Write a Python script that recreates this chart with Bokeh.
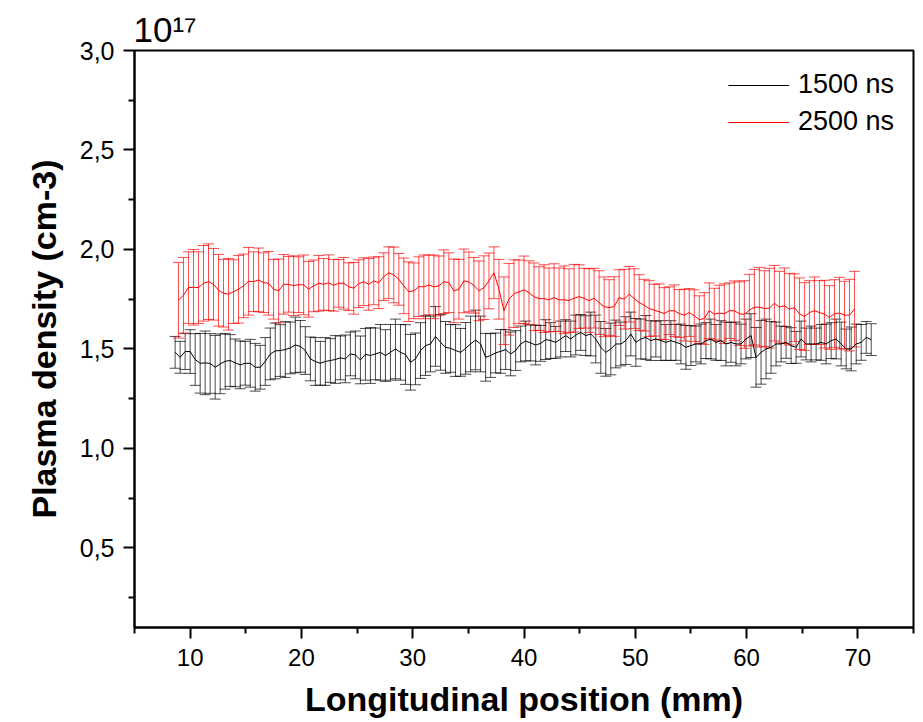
from bokeh.plotting import figure
from bokeh.models import (ColumnDataSource, Whisker, TeeHead, FixedTicker,
                          CustomJSTickFormatter, Range1d, Title)
from bokeh.embed import file_html
from bokeh.resources import INLINE

# ---------------- data (x in mm, density in 1e17 cm-3) ----------------
x_1500 = [8.65, 9.10, 9.55, 10.00, 10.45, 10.90, 11.35, 11.80, 12.25, 12.70, 13.15, 13.60, 14.05, 14.50, 14.95, 15.40, 15.85, 16.30, 16.75, 17.20,
          17.65, 18.10, 18.55, 19.00, 19.45, 19.90, 20.35, 20.80, 21.25, 21.70, 22.15, 22.60, 23.05, 23.50, 23.95, 24.40, 24.85, 25.30, 25.75, 26.20,
          26.65, 27.10, 27.55, 28.00, 28.45, 28.90, 29.35, 29.80, 30.25, 30.70, 31.15, 31.60, 32.05, 32.50, 32.95, 33.40, 33.85, 34.30, 34.75, 35.20,
          35.65, 36.10, 36.55, 37.00, 37.45, 37.90, 38.35, 38.80, 39.25, 39.70, 40.15, 40.60, 41.05, 41.50, 41.95, 42.40, 42.85, 43.30, 43.75, 44.20,
          44.65, 45.10, 45.55, 46.00, 46.45, 46.90, 47.35, 47.80, 48.25, 48.70, 49.15, 49.60, 50.05, 50.50, 50.95, 51.40, 51.85, 52.30, 52.75, 53.20,
          53.65, 54.10, 54.55, 55.00, 55.45, 55.90, 56.35, 56.80, 57.25, 57.70, 58.15, 58.60, 59.05, 59.50, 59.95, 60.40, 60.85, 61.30, 61.75, 62.20,
          62.65, 63.10, 63.55, 64.00, 64.45, 64.90, 65.35, 65.80, 66.25, 66.70, 67.15, 67.60, 68.05, 68.50, 68.95, 69.40, 69.85, 70.30, 70.75, 71.20]
y_1500 = [1.483, 1.458, 1.487, 1.487, 1.447, 1.428, 1.43, 1.427, 1.408, 1.425, 1.438, 1.442, 1.43, 1.42, 1.428, 1.428, 1.408, 1.408, 1.437, 1.475,
          1.49, 1.492, 1.497, 1.505, 1.52, 1.513, 1.492, 1.45, 1.437, 1.428, 1.437, 1.442, 1.447, 1.455, 1.45, 1.475, 1.47,
          1.445, 1.473, 1.467, 1.475, 1.483, 1.467, 1.483, 1.50, 1.483, 1.472, 1.433, 1.45, 1.492, 1.517, 1.525, 1.563, 1.533, 1.508, 1.503, 1.492,
          1.483, 1.503, 1.525, 1.545, 1.525, 1.458, 1.467, 1.48, 1.488, 1.497, 1.475, 1.492, 1.525, 1.54, 1.53, 1.52, 1.528, 1.547,
          1.542, 1.533, 1.55, 1.567, 1.55, 1.57, 1.583, 1.567, 1.575, 1.55, 1.508, 1.483, 1.50, 1.525, 1.525, 1.542, 1.575, 1.533, 1.55, 1.558,
          1.542, 1.55, 1.542, 1.533, 1.542, 1.533, 1.525, 1.508, 1.517, 1.525, 1.525, 1.542, 1.55, 1.533, 1.542, 1.525, 1.533, 1.525,
          1.525, 1.55, 1.567, 1.458, 1.483, 1.50, 1.508, 1.525, 1.525, 1.533, 1.517, 1.508, 1.55, 1.525, 1.525, 1.525, 1.533, 1.525, 1.542, 1.55,
          1.525, 1.50, 1.50, 1.525, 1.533, 1.558, 1.547]
err_1500 = [0.08, 0.08, 0.09, 0.11, 0.13, 0.15, 0.16, 0.15, 0.16, 0.15, 0.14, 0.13, 0.12, 0.12, 0.11, 0.12, 0.12, 0.11, 0.12, 0.13,
            0.14, 0.13, 0.14, 0.13, 0.14, 0.13, 0.12, 0.11, 0.12, 0.11, 0.12, 0.11, 0.12, 0.11, 0.12, 0.11, 0.12,
            0.12, 0.13, 0.14, 0.13, 0.14, 0.13, 0.14, 0.15, 0.14, 0.15, 0.14, 0.13, 0.14, 0.15, 0.14, 0.15, 0.14, 0.13, 0.12, 0.13,
            0.12, 0.13, 0.14, 0.15, 0.14, 0.12, 0.11, 0.10, 0.11, 0.10, 0.11, 0.10, 0.09, 0.10, 0.09, 0.10, 0.09, 0.10,
            0.09, 0.08, 0.09, 0.08, 0.09, 0.10, 0.09, 0.10, 0.11, 0.12, 0.13, 0.12, 0.13, 0.12, 0.11, 0.12, 0.11, 0.12, 0.10, 0.11,
            0.10, 0.09, 0.10, 0.09, 0.10, 0.09, 0.10, 0.11, 0.10, 0.09, 0.10, 0.09, 0.10, 0.09, 0.10, 0.11, 0.10, 0.11,
            0.10, 0.10, 0.11, 0.15, 0.16, 0.15, 0.13, 0.11, 0.09, 0.08, 0.09, 0.08, 0.09, 0.08, 0.09, 0.08, 0.09, 0.10, 0.09, 0.10,
            0.11, 0.10, 0.11, 0.10, 0.09, 0.08, 0.08]

x_2500 = [8.95, 9.40, 9.85, 10.30, 10.75, 11.20, 11.65, 12.10, 12.55, 13.00, 13.45, 13.90, 14.35, 14.80, 15.25, 15.70, 16.15, 16.60, 17.05, 17.50,
          17.95, 18.40, 18.85, 19.30, 19.75, 20.20, 20.65, 21.10, 21.55, 22.00, 22.45, 22.90, 23.35, 23.80, 24.25, 24.70, 25.15, 25.60, 26.05, 26.50,
          26.95, 27.40, 27.85, 28.30, 28.75, 29.20, 29.65, 30.10, 30.55, 31.00, 31.45, 31.90, 32.35, 32.80, 33.25, 33.70, 34.15, 34.60, 35.05, 35.50,
          35.95, 36.40, 36.85, 37.30, 37.75, 38.20, 38.65, 39.10, 39.55, 40.00, 40.45, 40.90, 41.35, 41.80, 42.25, 42.70, 43.15, 43.60, 44.05, 44.50,
          44.95, 45.40, 45.85, 46.30, 46.75, 47.20, 47.65, 48.10, 48.55, 49.00, 49.45, 49.90, 50.35, 50.80, 51.25, 51.70, 52.15, 52.60, 53.05, 53.50,
          53.95, 54.40, 54.85, 55.30, 55.75, 56.20, 56.65, 57.10, 57.55, 58.00, 58.45, 58.90, 59.35, 59.80, 60.25, 60.70, 61.15, 61.60, 62.05, 62.50,
          62.95, 63.40, 63.85, 64.30, 64.75, 65.20, 65.65, 66.10, 66.55, 67.00, 67.45, 67.90, 68.35, 68.80, 69.25, 69.70]
y_2500 = [1.745, 1.77, 1.808, 1.81, 1.808, 1.83, 1.838, 1.825, 1.795, 1.78, 1.775, 1.788, 1.80, 1.817, 1.84, 1.838, 1.847, 1.833, 1.83, 1.80,
          1.792, 1.825, 1.825, 1.818, 1.823, 1.822, 1.80, 1.817, 1.83, 1.825, 1.833, 1.82, 1.83, 1.83, 1.813, 1.805, 1.828,
          1.838, 1.825, 1.842, 1.833, 1.863, 1.883, 1.872, 1.85, 1.817, 1.788, 1.792, 1.813, 1.812, 1.822, 1.812, 1.817, 1.838, 1.833, 1.792, 1.80,
          1.842, 1.837, 1.82, 1.792, 1.808, 1.842, 1.883, 1.80, 1.692, 1.75, 1.778, 1.787, 1.797, 1.783, 1.762, 1.753, 1.753, 1.747,
          1.758, 1.747, 1.747, 1.743, 1.755, 1.763, 1.755, 1.743, 1.755, 1.733, 1.712, 1.708, 1.713, 1.758, 1.75, 1.775, 1.753, 1.733, 1.72, 1.703,
          1.695, 1.687, 1.678, 1.692, 1.692, 1.678, 1.67, 1.683, 1.667, 1.647, 1.653, 1.692, 1.675, 1.68, 1.677, 1.692, 1.692, 1.677,
          1.673, 1.695, 1.71, 1.71, 1.703, 1.705, 1.73, 1.71, 1.717, 1.70, 1.707, 1.677, 1.663, 1.683, 1.692, 1.683, 1.675, 1.658, 1.678, 1.68,
          1.67, 1.67, 1.70]
err_2500 = [0.19, 0.19, 0.18, 0.19, 0.18, 0.19, 0.19, 0.18, 0.18, 0.17, 0.18, 0.16, 0.17, 0.16, 0.17, 0.15, 0.16, 0.15, 0.16, 0.15,
            0.16, 0.15, 0.14, 0.15, 0.14, 0.15, 0.14, 0.13, 0.14, 0.13, 0.14, 0.13, 0.12, 0.13, 0.12, 0.13, 0.12,
            0.12, 0.13, 0.12, 0.13, 0.12, 0.13, 0.14, 0.13, 0.14, 0.15, 0.14, 0.15, 0.16, 0.15, 0.16, 0.15, 0.16, 0.15, 0.16, 0.15,
            0.16, 0.15, 0.14, 0.15, 0.16, 0.14, 0.13, 0.15, 0.17, 0.18, 0.17, 0.16, 0.17, 0.16, 0.17, 0.16, 0.17, 0.16,
            0.17, 0.16, 0.17, 0.16, 0.17, 0.16, 0.15, 0.16, 0.15, 0.16, 0.15, 0.14, 0.15, 0.14, 0.15, 0.14, 0.15, 0.14, 0.13, 0.14,
            0.13, 0.14, 0.13, 0.12, 0.13, 0.12, 0.13, 0.12, 0.13, 0.12, 0.13, 0.14, 0.13, 0.14, 0.15, 0.14, 0.15, 0.16,
            0.17, 0.18, 0.19, 0.2, 0.19, 0.2, 0.19, 0.18, 0.19, 0.18, 0.17, 0.18, 0.17, 0.16, 0.17, 0.16, 0.17, 0.16, 0.17, 0.18,
            0.17, 0.18, 0.19]

series_labels = ["1500 ns", "2500 ns"]
series_colors = ["#000000", "#ff0000"]

x_ticks = [10, 20, 30, 40, 50, 60, 70]
x_minor = [5, 15, 25, 35, 45, 55, 65, 75]
y_ticks = [0.5, 1.0, 1.5, 2.0, 2.5, 3.0]
y_minor = [0.25, 0.75, 1.25, 1.75, 2.25, 2.75]
y_scale_text = "10\u00b9\u2077"

FONT = "Liberation Sans"

p = figure(width=921, height=720, x_range=Range1d(5, 75), y_range=Range1d(0.1, 3.0),
           output_backend="svg", toolbar_location=None,
           min_border_left=134, min_border_right=8, min_border_top=50, min_border_bottom=90)
p.grid.visible = False
p.outline_line_color = "black"
p.outline_line_width = 2
p.background_fill_color = "white"
p.border_fill_color = "white"

for xs, ys, es, lab, col in [(x_1500, y_1500, err_1500, series_labels[0], series_colors[0]),
                              (x_2500, y_2500, err_2500, series_labels[1], series_colors[1])]:
    src = ColumnDataSource(dict(x=xs, y=ys,
                                upper=[a + b for a, b in zip(ys, es)],
                                lower=[a - b for a, b in zip(ys, es)]))
    w = Whisker(source=src, base="x", upper="upper", lower="lower", dimension="height",
                line_color=col, line_width=1, line_alpha=0.7,
                upper_head=TeeHead(size=11, line_color=col, line_width=1, line_alpha=0.7),
                lower_head=TeeHead(size=11, line_color=col, line_width=1, line_alpha=0.7))
    p.add_layout(w)
    p.line("x", "y", source=src, line_color=col, line_width=1, legend_label=lab)

# axes
for ax in (p.xaxis[0], p.yaxis[0]):
    ax.axis_line_width = 2
    ax.major_tick_line_width = 2
    ax.minor_tick_line_width = 2
    ax.major_tick_out = 11
    ax.major_tick_in = 0
    ax.minor_tick_out = 6
    ax.minor_tick_in = 0
    ax.major_label_text_font = FONT
    ax.major_label_text_color = "black"
    ax.axis_label_text_font = FONT
    ax.axis_label_text_font_style = "bold"
    ax.axis_label_text_font_size = "34px"
    ax.axis_label_text_color = "black"

p.xaxis.major_label_text_font_size = "24px"
p.yaxis.major_label_text_font_size = "25px"
p.xaxis.ticker = FixedTicker(ticks=x_ticks, minor_ticks=x_minor)
p.yaxis.ticker = FixedTicker(ticks=y_ticks, minor_ticks=y_minor)
p.yaxis.formatter = CustomJSTickFormatter(code="return tick.toFixed(1).replace('.', ',');")
p.xaxis.axis_label = "Longitudinal position (mm)"
p.yaxis.axis_label = "Plasma density (cm-3)"
p.xaxis.major_label_standoff = 10
p.yaxis.major_label_standoff = 9
p.xaxis.axis_label_standoff = 11
p.yaxis.axis_label_standoff = 14

# exponent marker above the y axis
p.add_layout(Title(text=y_scale_text, align="left", offset=-1, standoff=4,
                   text_font=FONT, text_font_size="35px", text_font_style="normal",
                   text_color="black"), "above")

# legend
lg = p.legend[0]
lg.location = "top_right"
lg.border_line_alpha = 0
lg.background_fill_alpha = 0
lg.label_text_font = FONT
lg.label_text_font_size = "27px"
lg.label_text_color = "black"
lg.glyph_width = 61
lg.glyph_height = 30
lg.label_height = 30
lg.label_standoff = 9
lg.spacing = 6
lg.margin = 10
lg.padding = 9

open("out.html", "w").write(file_html(p, INLINE))
